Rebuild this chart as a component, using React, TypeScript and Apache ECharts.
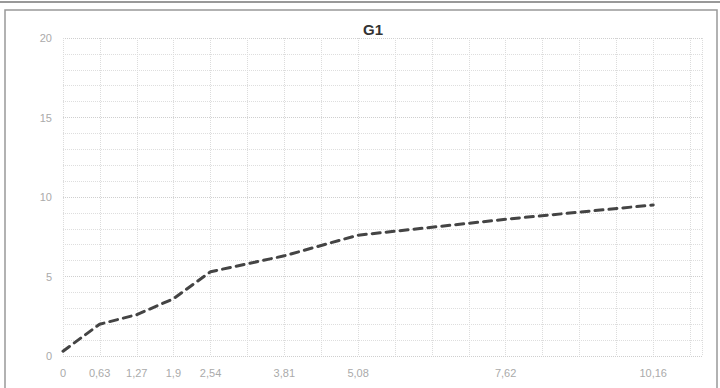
import React, { useEffect, useRef } from "react";
import * as echarts from "echarts";

const xValues = [0, 0.63, 1.27, 1.9, 2.54, 3.81, 5.08, 7.62, 10.16];
const yValues = [0.3, 2.0, 2.6, 3.6, 5.3, 6.3, 7.6, 8.6, 9.5];
const xTickLabels = [0, 0.63, 1.27, 1.9, 2.54, 3.81, 5.08, 7.62, 10.16];
const titleText = "G1";

export default function App() {
  const ref = useRef<HTMLDivElement>(null);
  useEffect(() => {
    if (!ref.current) return;
    const chart = echarts.init(ref.current, null, { renderer: "svg" });
    chart.setOption({
      animation: false,
      backgroundColor: "#ffffff",
      title: {
        text: titleText,
        left: 368,
        top: 17,
        textAlign: "center",
        textStyle: { fontFamily: "Liberation Sans, Arial", fontSize: 15, fontWeight: "bold", color: "#333" },
      },
      graphic: [
        { type: "line", shape: { x1: 0, y1: 2, x2: 720, y2: 2 }, style: { stroke: "#999", lineWidth: 2 } },
        { type: "rect", shape: { x: 5, y: 10, width: 712, height: 390 }, style: { fill: "none", stroke: "#999", lineWidth: 1.5 } },
      ],
      grid: { left: 63, right: 18, top: 38, bottom: 32 },
      xAxis: {
        type: "value",
        min: 0,
        max: 11,
        interval: 0.635,
        axisLine: { show: false },
        axisTick: { show: false },
        splitLine: { show: true, lineStyle: { color: "#dcdcdc", type: "dotted", width: 1 } },
        axisLabel: {
          customValues: xTickLabels,
          formatter: (v: number) => String(v).replace(".", ","),
          color: "#aaa",
          fontSize: 11,
          fontFamily: "Liberation Sans, Arial",
          margin: 11,
        },
      },
      yAxis: {
        type: "value",
        min: 0,
        max: 20,
        interval: 5,
        axisLine: { show: false },
        axisTick: { show: false },
        splitLine: { show: true, lineStyle: { color: "#cfcfcf", type: "dotted", width: 1 } },
        minorTick: { show: false, splitNumber: 5 },
        minorSplitLine: { show: true, lineStyle: { color: "#dedede", type: "dotted", width: 1 } },
        axisLabel: { color: "#aaa", fontSize: 11, fontFamily: "Liberation Sans, Arial", margin: 11 },
      },
      series: [
        {
          type: "line",
          data: xValues.map((x, i) => [x, yValues[i]]),
          showSymbol: false,
          symbol: "none",
          lineStyle: { color: "#444", width: 3, type: [8, 6], cap: "round" },
        },
      ],
    });
    return () => chart.dispose();
  }, []);
  return <div ref={ref} style={{ width: 720, height: 388, position: "absolute", left: 0, top: 0 }} />;
}
